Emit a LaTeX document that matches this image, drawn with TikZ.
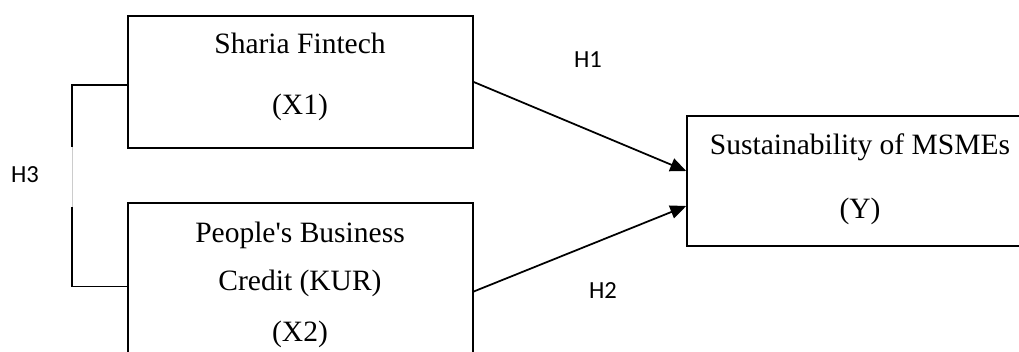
\documentclass[tikz,border=0pt]{standalone}
\usepackage{fontspec}
\setmainfont{Liberation Serif}
\newfontfamily\hypfont{Carlito}
\usetikzlibrary{arrows.meta}

\begin{document}
\begin{tikzpicture}[x=0.02cm,y=-0.02cm,
  box/.style={draw,line width=0.9pt,inner sep=0pt},
  lbl/.style={anchor=base,font=\fontsize{16.8}{20}\selectfont},
  hyp/.style={anchor=base,font=\hypfont\fontsize{14}{16}\selectfont},
  link/.style={line width=1pt},
  arr/.style={line width=1pt,-{Triangle[length=0.32cm,width=0.27cm]}}]
\useasboundingbox (0,0) rectangle (1019,352);
\clip (0,0) rectangle (1019,352);
\node[box,minimum width=6.9cm,minimum height=2.64cm] (x1) at (300.5,82) {};
\node[box,minimum width=6.9cm,minimum height=3.54cm] (x2) at (300.5,291.5) {};
\node[box,minimum width=7.06cm,minimum height=2.6cm] (yv) at (863.5,181) {};
\node[lbl] (x1name) at (300,53) {Sharia Fintech};
\node[lbl] (x1code) at (300,114) {(X1)};
\node[lbl] (x2name) at (300,242) {People\textquotesingle s Business};
\node[lbl] (x2line) at (300,290) {Credit (KUR)};
\node[lbl] (x2code) at (300,341) {(X2)};
\node[lbl] (yname) at (860,154) {Sustainability of MSMEs};
\node[lbl] (ycode) at (860,218) {(Y)};
\node[hyp] (h1) at (588,67) {H1};
\node[hyp] (h2) at (603,298) {H2};
\node[hyp] (h3) at (25,182) {H3};
\draw[arr] (x1.east) -- ([yshift=0.2cm]yv.west);
\draw[arr] (x2.east) -- ([yshift=-0.5cm]yv.west);
\draw[link] ([yshift=-0.06cm]x1.west) -- ++(-55,0) -- ++(0,62) coordinate (gtop);
\draw[link] ([yshift=0.1cm]x2.west) -- ++(-55,0) -- ++(0,-80) coordinate (gbot);
\draw[gray!40,line width=0.4pt] (gtop) -- (gbot);
\end{tikzpicture}
\end{document}
